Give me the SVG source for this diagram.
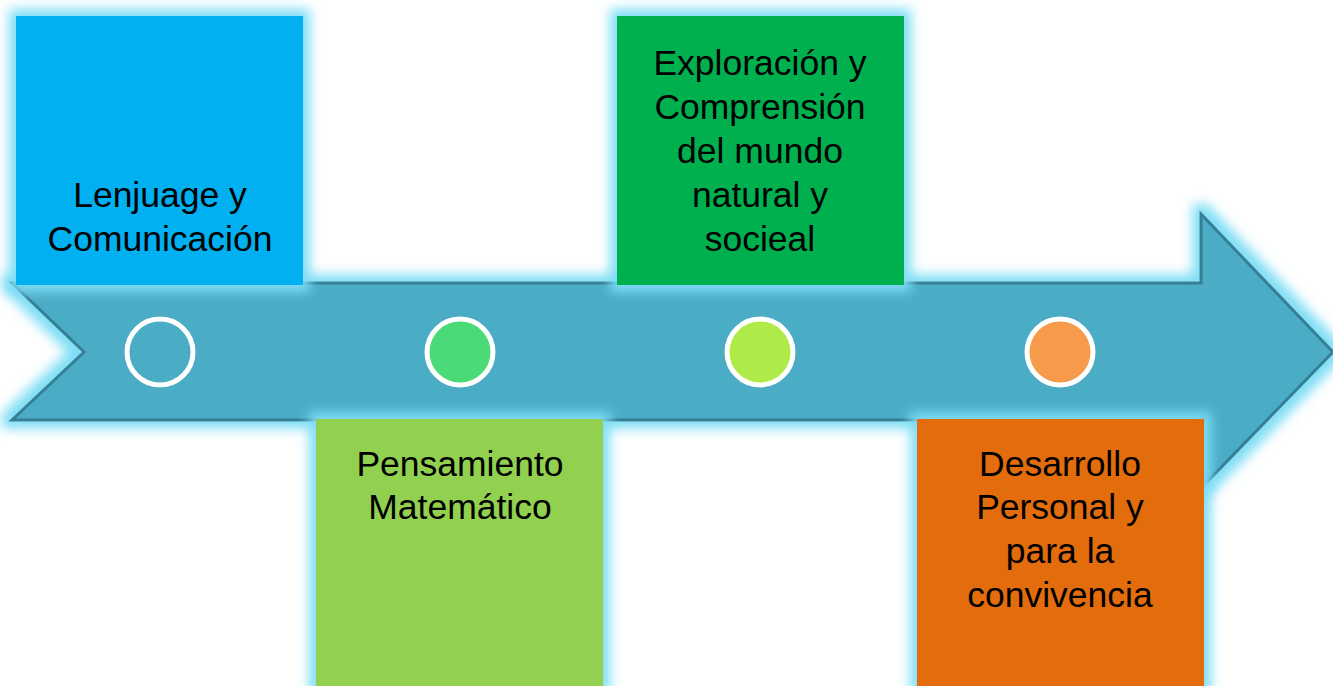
<svg xmlns="http://www.w3.org/2000/svg" width="1333" height="686" viewBox="0 0 1333 686">
<defs>
<filter id="glow" x="-20%" y="-20%" width="140%" height="140%">
<feMorphology in="SourceAlpha" operator="dilate" radius="7" result="d"/>
<feGaussianBlur in="d" stdDeviation="6" result="b"/>
<feFlood flood-color="#7FDDF6" flood-opacity="1"/>
<feComposite in2="b" operator="in" result="g"/>
<feMerge><feMergeNode in="g"/><feMergeNode in="SourceGraphic"/></feMerge>
</filter>
</defs>
<style>
.lbl{font-family:"Liberation Sans",Arial,sans-serif;font-size:35.5px;fill:#000;text-anchor:middle}
.dot{stroke:#fff;stroke-width:5}
</style>
<rect width="1333" height="686" fill="#fff"/>
<g id="connectors">
<path id="arrow" d="M12,283 L1201,283 L1201,214 L1333,352 L1203,486 L1203,420 L12,420 L84,352 Z" fill="#4BACC6" stroke="#357F93" stroke-width="3" stroke-linejoin="miter" filter="url(#glow)"/>
</g>
<g id="node1">
<rect x="16" y="16" width="287" height="269" fill="#00B0F0" filter="url(#glow)"/>
<text class="lbl" x="160" y="207">Lenjuage y</text>
<text class="lbl" x="160" y="251">Comunicación</text>
</g>
<g id="node2">
<rect x="316" y="419" width="287" height="267" fill="#92D050" filter="url(#glow)"/>
<text class="lbl" x="460" y="476">Pensamiento</text>
<text class="lbl" x="460" y="519">Matemático</text>
</g>
<g id="node3">
<rect x="617" y="16" width="287" height="269" fill="#00B050" filter="url(#glow)"/>
<text class="lbl" x="760" y="75">Exploración y</text>
<text class="lbl" x="760" y="119">Comprensión</text>
<text class="lbl" x="760" y="163">del mundo</text>
<text class="lbl" x="760" y="207">natural y</text>
<text class="lbl" x="760" y="251">socieal</text>
</g>
<g id="node4">
<rect x="917" y="419" width="287" height="267" fill="#E36C09" filter="url(#glow)"/>
<text class="lbl" x="1060" y="476">Desarrollo</text>
<text class="lbl" x="1060" y="519">Personal y</text>
<text class="lbl" x="1060" y="563">para la</text>
<text class="lbl" x="1060" y="607">convivencia</text>
</g>
<g id="dots">
<circle class="dot" cx="160" cy="352" r="33" fill="#4BACC6"/>
<circle class="dot" cx="460" cy="352" r="33" fill="#4ADA78"/>
<circle class="dot" cx="760" cy="352" r="33" fill="#AFEB48"/>
<circle class="dot" cx="1060" cy="352" r="33" fill="#F79A4B"/>
</g>
</svg>
